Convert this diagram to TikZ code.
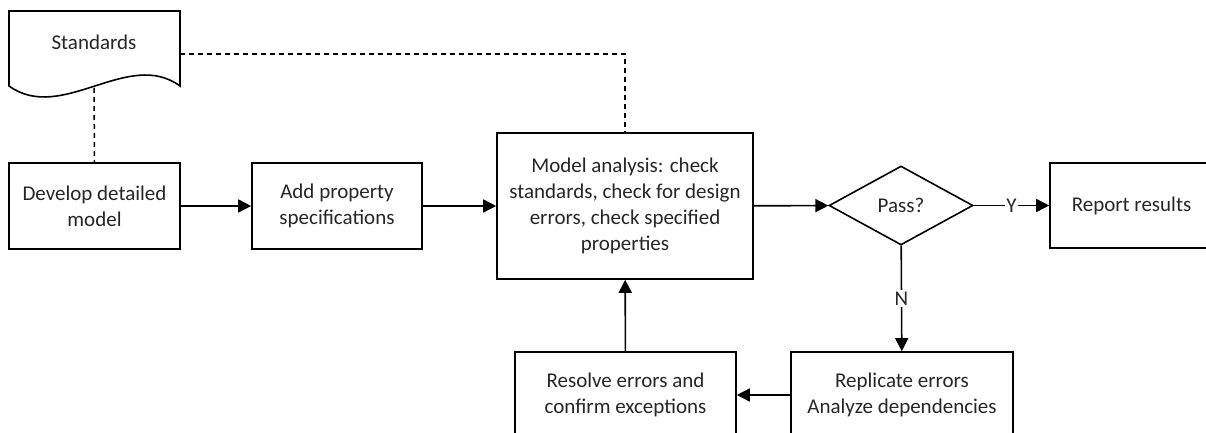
\documentclass[tikz,border=0pt]{standalone}
\usepackage{fontspec}
\setmainfont{Carlito}
\usetikzlibrary{arrows.meta,shapes.geometric}
\begin{document}
\begin{tikzpicture}[x=1pt, y=-1pt,
                        every node/.style={font=\fontsize{21}{26}\selectfont, text=black!85},
                        box/.style={draw, line width=1.6pt, align=center, inner sep=0pt, minimum height=86pt},
                        decision/.style={draw, diamond, line width=1.6pt, inner sep=0pt, minimum width=144pt, minimum height=79pt},
                        flow/.style={line width=1.6pt, -{Triangle[length=13pt, width=13pt]}},
                        link/.style={line width=1.5pt, dash pattern=on 5pt off 4pt},
                        tag/.style={fill=white, inner sep=1.5pt}]
                        \useasboundingbox (0, 0) rectangle (1206, 433);
                        \clip (0, 0) rectangle (1206, 433);
                        \node [box, minimum width=171pt] (dev) at (94.5, 206) {Develop detailed\\model};
                        \node [box, minimum width=170pt] (add) at (337, 206) {Add property\\specifications};
                        \node [box, minimum width=256pt, minimum height=146pt] (model) at (625, 206) {Model analysis: check\\standards, check for design\\errors, check specified\\properties};
                        \node [decision] (pass) at (901, 205.5) {Pass?};
                        \node [box, minimum width=163pt, minimum height=85pt] (report) at (1131.5, 205.5) {Report results};
                        \node [box, minimum width=221pt] (resolve) at (625.5, 395) {Resolve errors and\\confirm exceptions};
                        \node [box, minimum width=222pt] (repl) at (902, 395) {Replicate errors\\Analyze dependencies};
                        \coordinate (stdR) at (180, 54);
                        \coordinate (stdB) at (94, 88);
                        \draw [link] (stdR) -| (model.north);
                        \draw [link] (stdB) -- (dev.north);
                        \draw [line width=1.6pt, fill=white] (9, 11) -- (180, 11) -- (180, 86) .. controls (128, 48) and (62, 124) .. (9, 86) -- cycle;
                        \node (std) at (94, 42) {Standards};
                        \draw [flow] (dev) -- (add);
                        \draw [flow] (add) -- (model);
                        \draw [flow] (model) -- (pass);
                        \draw [flow] (pass) -- node [tag] {Y} (report);
                        \draw [flow] (pass) -- node [tag] {N} (repl);
                        \draw [flow] (repl) -- (resolve);
                        \draw [flow] (resolve) -- (model);
                    \end{tikzpicture}
\end{document}
